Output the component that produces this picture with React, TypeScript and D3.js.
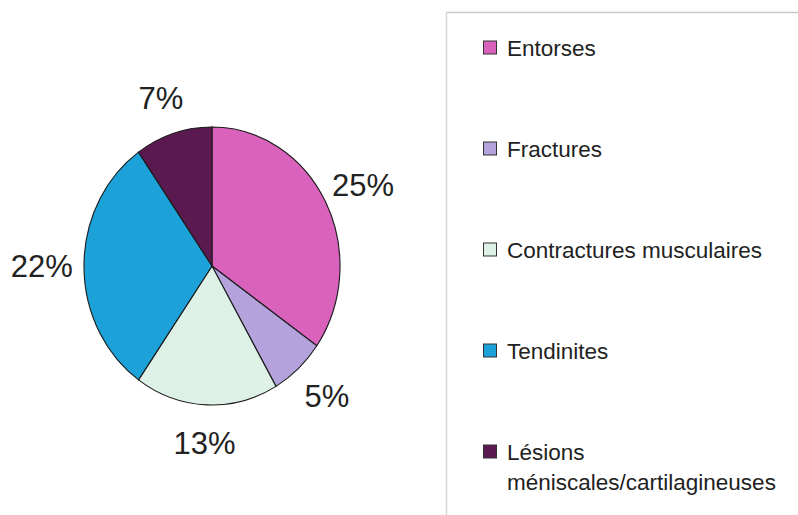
import React from "react";
import * as d3 from "d3";

const categories = [
  "Entorses",
  "Fractures",
  "Contractures musculaires",
  "Tendinites",
  "Lésions méniscales/cartilagineuses",
];
const legendLines = [
  ["Entorses"],
  ["Fractures"],
  ["Contractures musculaires"],
  ["Tendinites"],
  ["Lésions", "méniscales/cartilagineuses"],
];
const values = [25, 5, 13, 22, 7];
const colors = ["#D862BC", "#B4A2DD", "#DDF1E6", "#1CA2D8", "#5A1A50"];

const W = 798;
const H = 515;
const cx = 212;
const cy = 266;
const rx = 128;
const ry = 139;
const labelKx = 1.33;
const labelKy = 1.27;

export default function App() {
  const pie = d3
    .pie<number>()
    .sort(null)
    .value((d) => d)
    .startAngle(0)
    .endAngle(2 * Math.PI);
  const arcs = pie(values);
  const arc = d3.arc<d3.PieArcDatum<number>>().innerRadius(0).outerRadius(1);

  const rowY = d3.scaleLinear().domain([0, 4]).range([48, 452]);

  return (
    <svg
      width={W}
      height={H}
      style={{ position: "absolute", left: 0, top: 0, display: "block", background: "#fff" }}
      fontFamily="'Liberation Sans', Arial, sans-serif"
    >
      <rect x={0} y={0} width={W} height={H} fill="#fff" />
      <g transform={`translate(${cx},${cy}) scale(${rx},${ry})`}>
        {arcs.map((a, i) => (
          <path
            key={i}
            d={arc(a) || ""}
            fill={colors[i]}
            stroke="#1a1a1a"
            strokeWidth={1.1}
            vectorEffect="non-scaling-stroke"
          />
        ))}
      </g>
      {arcs.map((a, i) => {
        const m = (a.startAngle + a.endAngle) / 2;
        const x = cx + labelKx * rx * Math.sin(m);
        const y = cy - labelKy * ry * Math.cos(m);
        const pct = values[i];
        return (
          <text
            key={i}
            x={x}
            y={y}
            dy="0.36em"
            textAnchor="middle"
            fontSize={31}
            fill="#222"
          >
            {`${pct}%`}
          </text>
        );
      })}
      {/* legend box */}
      <line x1={446} y1={12.5} x2={W} y2={12.5} stroke="#c9c9c9" strokeWidth={1.5} />
      <line x1={446.5} y1={12} x2={446.5} y2={H} stroke="#d6d6d6" strokeWidth={1.5} />
      {categories.map((c, i) => {
        const y = rowY(i);
        const lines = legendLines[i];
        return (
          <g key={c}>
            <rect
              x={483.5}
              y={y - 7}
              width={13}
              height={13}
              fill={colors[i]}
              stroke="#333"
              strokeWidth={1}
            />
            <text x={507} y={y} fontSize={22.5} fill="#222">
              {lines.map((l, j) => (
                <tspan key={j} x={507} dy={j === 0 ? "0.36em" : 30}>
                  {l}
                </tspan>
              ))}
            </text>
          </g>
        );
      })}
    </svg>
  );
}
